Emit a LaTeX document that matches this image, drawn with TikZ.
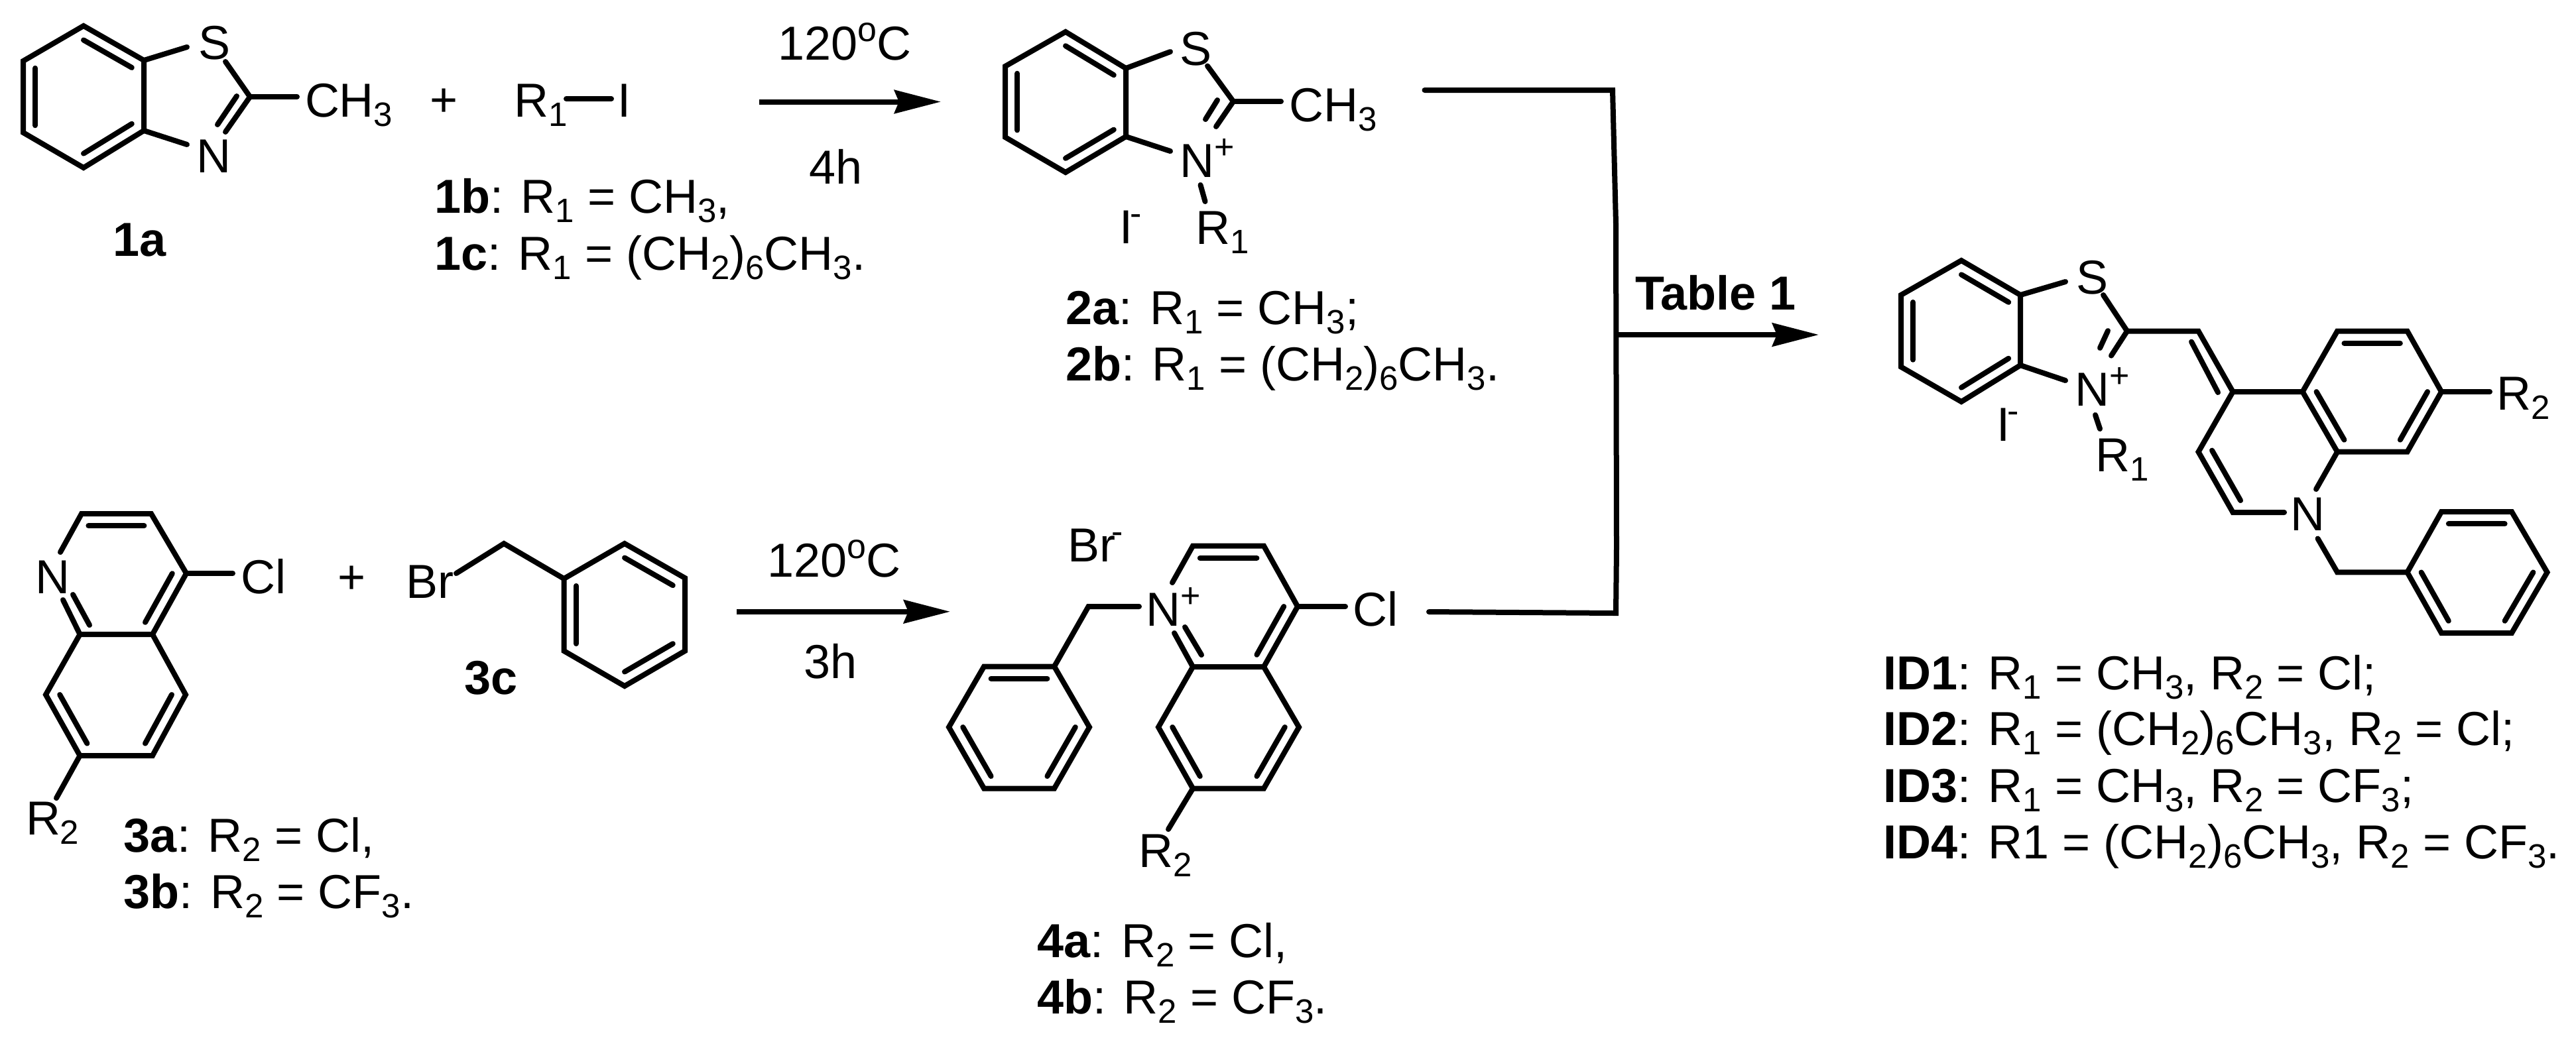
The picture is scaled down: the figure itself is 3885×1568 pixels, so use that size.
\documentclass[tikz,border=0pt]{standalone}
\usepackage{fontspec}
\setmainfont{Liberation Sans}
\usetikzlibrary{arrows.meta,calc}
\newcommand\dn[1]{\raisebox{-3.5pt}{\fontsize{12.75pt}{14pt}\selectfont #1}}
\newcommand\up[1]{\raisebox{7pt}{\fontsize{13pt}{14pt}\selectfont #1}}
\newcommand\vx[2]{\coordinate (#1) at (#2);}
\newcommand\inr[3]{\draw[bond] ($(#1)!.2!(#3)$) -- ($(#2)!.2!(#3)$);}
\newcommand\lab[3]{\node[lbl] (#1) at (#2) {#3};}
\tikzset{
  bond/.style={line width=2pt,line cap=round,line join=miter,miter limit=10,black},
  rxn/.style={line width=2pt,black,-{Stealth[length=17.5pt,width=8.75pt,inset=1.7pt]}},
  lbl/.style={anchor=base west,inner sep=0pt,outer sep=0pt,text=black,
    font=\fontsize{18pt}{20pt}\selectfont}
}
\begin{document}
\begin{tikzpicture}[x=0.25pt,y=-0.25pt]
\useasboundingbox (0,0) rectangle (3885,1568);
\fill[white] (0,0) rectangle (3885,1568);

%% --- 1a ---
\vx{a1}{126,39}\vx{a2}{217,91}\vx{a3}{217,197}\vx{a4}{126,253}\vx{a5}{35,200}\vx{a6}{35,92}\vx{ac}{126,146}
\vx{aS}{282,71}\vx{aSb}{340,93}\vx{aC}{377,146}\vx{aNb}{340,199}\vx{aN}{282,218}\vx{aM}{448,146}
\vx{aI1}{357,145}\vx{aI2}{328,188}
\draw[bond] (a1)--(a2)--(a3)--(a4)--(a5)--(a6)--cycle;
\inr{a1}{a2}{ac}\inr{a3}{a4}{ac}\inr{a5}{a6}{ac}
\draw[bond] (a2)--(aS);\draw[bond] (aSb)--(aC)--(aNb);\draw[bond] (aI1)--(aI2);
\draw[bond] (a3)--(aN);\draw[bond] (aC)--(aM);
\lab{tS1}{299,89}{S}
\lab{tN1}{296,260}{N}
\lab{tM1}{460,176}{CH\dn{3}}
\lab{t1a}{170,386}{\textbf{1a}}
\lab{tP1}{648,175}{+}

%% --- R1-I ---
\lab{tR1}{775,176}{R\dn{1}}
\lab{tI1}{931,176}{I}
\vx{iA}{854,149}\vx{iB}{922,149}
\draw[bond] (iA)--(iB);
\lab{t1b}{655,321}{\textbf{1b}: R\dn{1} = CH\dn{3},}
\lab{t1c}{655,407}{\textbf{1c}: R\dn{1} = (CH\dn{2})\dn{6}CH\dn{3}.}

%% --- arrow 1 ---
\vx{r1a}{1145,153.5}\vx{r1b}{1419,153.5}
\draw[rxn] (r1a)--(r1b);
\lab{tT1}{1173,90}{120\up{o}C}
\lab{th1}{1220,277}{4h}

%% --- 2 ---
\vx{b1}{1607,48}\vx{b2}{1698,103}\vx{b3}{1698,206}\vx{b4}{1607,260}\vx{b5}{1516,207}\vx{b6}{1516,100}\vx{bc}{1607,154}
\vx{bS}{1765,78}\vx{bSb}{1821,99.5}\vx{bC}{1860,153}\vx{bNb}{1834,191}\vx{bN}{1765,228}\vx{bM}{1932,153}
\vx{bI1}{1836,151}\vx{bI2}{1818,180}\vx{bR1}{1810.5,279}\vx{bR2}{1817.5,304}
\draw[bond] (b1)--(b2)--(b3)--(b4)--(b5)--(b6)--cycle;
\inr{b1}{b2}{bc}\inr{b3}{b4}{bc}\inr{b5}{b6}{bc}
\draw[bond] (b2)--(bS);\draw[bond] (bSb)--(bC)--(bNb);\draw[bond] (bI1)--(bI2);
\draw[bond] (b3)--(bN);\draw[bond] (bC)--(bM);\draw[bond] (bR1)--(bR2);
\lab{tS2}{1779,98}{S}
\lab{tN2}{1779,267}{N\up{+}}
\lab{tM2}{1944,183}{CH\dn{3}}
\lab{tR2}{1803.5,368}{R\dn{1}}
\lab{tI2}{1688,367}{I\kern-1pt\up{-}}
\lab{t2a}{1607,489}{\textbf{2a}: R\dn{1} = CH\dn{3};}
\lab{t2b}{1607,574}{\textbf{2b}: R\dn{1} = (CH\dn{2})\dn{6}CH\dn{3}.}

%% --- bracket and arrow 3 ---
\vx{k1}{2148.5,136}\vx{k2}{2432,136}\vx{k3}{2437,338}\vx{k4}{2438,826}\vx{k5}{2437,925}\vx{k6}{2155,923}
\vx{kj}{2437,505}\vx{kt}{2743,505}
\draw[bond] (k1)--(k2)--(k3)--(k4)--(k5)--(k6);
\draw[rxn] (kj)--(kt);
\lab{tTab}{2466,467.5}{\textbf{Table 1}}

%% --- 3a ---
\vx{c1}{123,775}\vx{c2}{228,775}\vx{c3}{281,865}\vx{c4}{230,957}\vx{c5}{120.5,957}\vx{cc}{175,866}
\vx{cNa}{91,833}\vx{cNb}{95,905}\vx{cI1}{110,897}\vx{cI2}{135,943}\vx{cCl}{351,865}
\vx{d3}{280,1048}\vx{d4}{230,1140}\vx{d5}{120.5,1140}\vx{d6}{69,1048}\vx{dc}{175,1048}\vx{dR}{85,1204}
\draw[bond] (cNa)--(c1)--(c2)--(c3)--(c4)--(c5)--(cNb);
\draw[bond] (c5)--(d6)--(d5)--(d4)--(d3)--(c4);
\inr{c1}{c2}{cc}\inr{c3}{c4}{cc}\draw[bond] (cI1)--(cI2);
\inr{d6}{d5}{dc}\inr{d4}{d3}{dc}
\draw[bond] (c3)--(cCl);\draw[bond] (d5)--(dR);
\lab{tN3}{53,895}{N}
\lab{tCl3}{363.5,895}{Cl}
\lab{tR3}{39,1259}{R\dn{2}}
\lab{t3a}{186.6,1285}{\textbf{3a}: R\dn{2} = Cl,}
\lab{t3b}{186.6,1370}{\textbf{3b}: R\dn{2} = CF\dn{3}.}
\lab{tP2}{509,895}{+}

%% --- 3c ---
\vx{eBr}{688,865}\vx{eC}{760,820}
\vx{e1}{942,820}\vx{e2}{1033,872}\vx{e3}{1033,982}\vx{e4}{942,1035}\vx{e5}{850.5,982}\vx{e6}{850.5,873}\vx{ec}{942,927.5}
\draw[bond] (e1)--(e2)--(e3)--(e4)--(e5)--(e6)--cycle;
\inr{e1}{e2}{ec}\inr{e3}{e4}{ec}\inr{e5}{e6}{ec}
\draw[bond] (eBr)--(eC)--(e6);
\lab{tBr3}{612,902}{Br}
\lab{t3c}{700,1047}{\textbf{3c}}

%% --- arrow 2 ---
\vx{r2a}{1111,922.7}\vx{r2b}{1433,922.7}
\draw[rxn] (r2a)--(r2b);
\lab{tT2}{1157,870}{120\up{o}C}
\lab{th2}{1212,1023}{3h}

%% --- 4 ---
\vx{f1}{1799,823.5}\vx{f2}{1906,823.5}\vx{f3}{1957,915}\vx{f4}{1906,1006}\vx{f5}{1799,1006}\vx{fc}{1853,915}
\vx{fNa}{1768,879}\vx{fNb}{1771,955}\vx{fI1}{1787,946}\vx{fI2}{1812,988}\vx{fCl}{2029,915}
\vx{g3}{1959,1097}\vx{g4}{1906,1189.5}\vx{g5}{1799,1189.5}\vx{g6}{1747,1097}\vx{gc}{1853,1097}\vx{gR}{1762,1251}
\draw[bond] (fNa)--(f1)--(f2)--(f3)--(f4)--(f5)--(fNb);
\draw[bond] (f5)--(g6)--(g5)--(g4)--(g3)--(f4);
\inr{f1}{f2}{fc}\inr{f3}{f4}{fc}\draw[bond] (fI1)--(fI2);
\inr{g6}{g5}{gc}\inr{g4}{g3}{gc}
\draw[bond] (f3)--(fCl);\draw[bond] (g5)--(gR);
\vx{hN}{1718,915}\vx{hC}{1641.5,915}
\vx{h1}{1590,1005.5}\vx{h2}{1484,1005.5}\vx{h3}{1431,1097}\vx{h4}{1484,1189.5}\vx{h5}{1590,1189.5}\vx{h6}{1643,1097}\vx{hc}{1537,1097}
\draw[bond] (h1)--(h2)--(h3)--(h4)--(h5)--(h6)--cycle;
\inr{h1}{h2}{hc}\inr{h3}{h4}{hc}\inr{h5}{h6}{hc}
\draw[bond] (hN)--(hC)--(h1);
\lab{tBr4}{1610,847}{Br\kern-1.5pt\up{-}}
\lab{tN4}{1728,944}{N\up{+}}
\lab{tCl4}{2040.5,944}{Cl}
\lab{tR4}{1717,1308}{R\dn{2}}
\lab{t4a}{1564,1444}{\textbf{4a}: R\dn{2} = Cl,}
\lab{t4b}{1564,1529}{\textbf{4b}: R\dn{2} = CF\dn{3}.}

%% --- ID ---
\vx{m1}{2958,393}\vx{m2}{3047,445}\vx{m3}{3047,551}\vx{m4}{2958,606}\vx{m5}{2867,553.5}\vx{m6}{2867,445}\vx{mc}{2958,499.5}
\vx{mS}{3115,425}\vx{mSb}{3172,445}\vx{mC}{3208,499.5}\vx{mNb}{3184,536.6}\vx{mN}{3115,574}
\vx{mI1}{3179,499}\vx{mI2}{3167,525}\vx{mR1}{3160,626}\vx{mR2}{3167,647}
\draw[bond] (m1)--(m2)--(m3)--(m4)--(m5)--(m6)--cycle;
\inr{m1}{m2}{mc}\inr{m3}{m4}{mc}\inr{m5}{m6}{mc}
\draw[bond] (m2)--(mS);\draw[bond] (mSb)--(mC)--(mNb);\draw[bond] (mI1)--(mI2);
\draw[bond] (m3)--(mN);\draw[bond] (mR1)--(mR2);
\vx{n1}{3315.5,499.5}\vx{n2}{3367.5,591}\vx{n3}{3472.6,591}\vx{n4}{3525,681.7}\vx{nNa}{3493,738}
\vx{n6}{3315.5,681.7}\vx{n7}{3367.5,773}\vx{nNb}{3445,773}
\vx{nI1}{3305,515.6}\vx{nI2}{3345,592}\vx{nI3}{3336,679.5}\vx{nI4}{3379,755}
\draw[bond] (mC)--(n1)--(n2)--(n3)--(n4)--(nNa);
\draw[bond] (n2)--(n6)--(n7)--(nNb);
\draw[bond] (nI1)--(nI2);\draw[bond] (nI3)--(nI4);
\vx{o1}{3525,499.5}\vx{o2}{3630.5,499.5}\vx{o3}{3682,591}\vx{o4}{3630.5,681.7}\vx{oc}{3577,591}\vx{oR}{3755,591}
\draw[bond] (n3)--(o1)--(o2)--(o3)--(o4)--(n4);
\inr{o1}{o2}{oc}\inr{o3}{o4}{oc}\inr{n3}{n4}{oc}
\draw[bond] (o3)--(oR);
\vx{pN}{3495.5,812.5}\vx{pC}{3525,863.4}
\vx{p1}{3630.5,863.4}\vx{p2}{3682,772}\vx{p3}{3788,772}\vx{p4}{3841.5,863.4}\vx{p5}{3788,955}\vx{p6}{3682,955}\vx{pc}{3736,863.4}
\draw[bond] (p1)--(p2)--(p3)--(p4)--(p5)--(p6)--cycle;
\inr{p2}{p3}{pc}\inr{p4}{p5}{pc}\inr{p6}{p1}{pc}
\draw[bond] (pN)--(pC)--(p1);
\lab{tS5}{3131,443}{S}
\lab{tN5}{3129,612.5}{N\up{+}}
\lab{tI5}{3011,665}{I\kern-1pt\up{-}}
\lab{tR51}{3160,711.6}{R\dn{1}}
\lab{tR52}{3765,618}{R\dn{2}}
\lab{tN6}{3454,800}{N}
\lab{tID1}{2840,1040}{\textbf{ID1}: R\dn{1} = CH\dn{3}, R\dn{2} = Cl;}
\lab{tID2}{2840,1124}{\textbf{ID2}: R\dn{1} = (CH\dn{2})\dn{6}CH\dn{3}, R\dn{2} = Cl;}
\lab{tID3}{2840,1210.7}{\textbf{ID3}: R\dn{1} = CH\dn{3}, R\dn{2} = CF\dn{3};}
\lab{tID4}{2840,1295}{\textbf{ID4}: R1 = (CH\dn{2})\dn{6}CH\dn{3}, R\dn{2} = CF\dn{3}.}
\end{tikzpicture}
\end{document}
